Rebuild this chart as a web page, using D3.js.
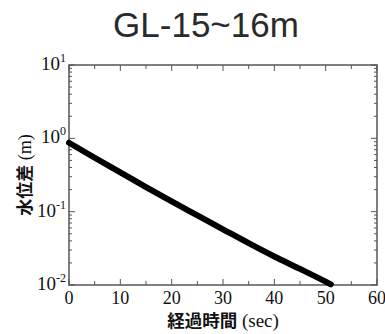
<!DOCTYPE html>
<html>
<head>
<meta charset="utf-8">
<script src="https://cdn.jsdelivr.net/npm/d3@7"></script>
<style>
  html, body { margin: 0; padding: 0; background: #fff; }
  svg { display: block; }
  .serif { font-family: "Liberation Serif", "Times New Roman", "DejaVu Serif", serif; }
  .cjk { font-family: "Noto Sans CJK JP", "Noto Sans CJK SC", sans-serif; }
  .sans { font-family: "Liberation Sans", Arial, sans-serif; }
</style>
</head>
<body>
<svg id="chart" width="385" height="334"></svg>
<script>
// Head-difference decay in a slug test (GL-15~16m)
const elapsedSec = [0, 5, 10, 15, 20, 25, 30, 35, 40, 45, 50, 51];
const headDiffM = [0.871, 0.543, 0.343, 0.216, 0.138, 0.0891, 0.0575, 0.0372, 0.0245, 0.0166, 0.0111, 0.0102];
const xTickValues = [0, 10, 20, 30, 40, 50, 60];
const yDecadeExponents = [1, 0, -1, -2];

const titleText = "GL-15~16m";
const xLabelJa = "経過時間", xLabelUnit = " (sec)";
const yLabelJa = "水位差", yLabelUnit = " (m)";

const margin = { left: 69, right: 8, top: 65, bottom: 49 };
const W = 385, H = 334;
const svg = d3.select("#chart");

const x = d3.scaleLinear().domain([0, 60]).range([margin.left, W - margin.right]);
const y = d3.scaleLog().domain([0.01, 10]).range([H - margin.bottom, margin.top]);

const axisColor = "#555";

// frame
svg.append("rect")
  .attr("x", x(0)).attr("y", y(10))
  .attr("width", x(60) - x(0)).attr("height", y(0.01) - y(10))
  .attr("fill", "none").attr("stroke", axisColor).attr("stroke-width", 1.5);

// x ticks (inward on bottom and top)
const xMinor = d3.range(5, 60, 10);
function xTicks(vals, len) {
  vals.forEach(v => {
    svg.append("line").attr("x1", x(v)).attr("x2", x(v))
      .attr("y1", y(0.01)).attr("y2", y(0.01) - len)
      .attr("stroke", axisColor).attr("stroke-width", 1);
    svg.append("line").attr("x1", x(v)).attr("x2", x(v))
      .attr("y1", y(10)).attr("y2", y(10) + len)
      .attr("stroke", axisColor).attr("stroke-width", 1);
  });
}
xTicks(xTickValues, 6);
xTicks(xMinor, 4);

// y ticks (log, inward on left and right)
const yMinor = [];
[0.01, 0.1, 1].forEach(d => { for (let k = 2; k <= 9; k++) yMinor.push(d * k); });
function yTicks(vals, len) {
  vals.forEach(v => {
    svg.append("line").attr("x1", x(0)).attr("x2", x(0) + len)
      .attr("y1", y(v)).attr("y2", y(v))
      .attr("stroke", axisColor).attr("stroke-width", 1);
    svg.append("line").attr("x1", x(60)).attr("x2", x(60) - len)
      .attr("y1", y(v)).attr("y2", y(v))
      .attr("stroke", axisColor).attr("stroke-width", 1);
  });
}
yTicks(yDecadeExponents.map(e => Math.pow(10, e)), 6);
yTicks(yMinor, 3);

// x tick labels
svg.append("g").selectAll("text").data(xTickValues).join("text")
  .attr("class", "serif")
  .attr("x", d => x(d)).attr("y", y(0.01) + 19)
  .attr("text-anchor", "middle")
  .attr("font-size", 18)
  .attr("fill", "#111")
  .text(d => d);

// y tick labels: 10 with superscript exponent
const yl = svg.append("g").selectAll("text").data(yDecadeExponents).join("text")
  .attr("class", "serif")
  .attr("x", x(0) - 3).attr("y", d => y(Math.pow(10, d)) + 5)
  .attr("text-anchor", "end")
  .attr("font-size", 19)
  .attr("fill", "#111");
yl.append("tspan").text("10");
yl.append("tspan").attr("dy", -8).attr("font-size", 12).text(d => d);

// data curve
const pts = elapsedSec.map((t, i) => [t, headDiffM[i]]);
svg.append("path")
  .datum(pts)
  .attr("d", d3.line().x(d => x(d[0])).y(d => y(d[1])).curve(d3.curveMonotoneX))
  .attr("fill", "none").attr("stroke", "#000")
  .attr("stroke-width", 6).attr("stroke-linecap", "round").attr("stroke-linejoin", "round");

// title
svg.append("text")
  .attr("class", "sans")
  .attr("x", 206).attr("y", 37)
  .attr("text-anchor", "middle")
  .attr("font-size", 35).attr("fill", "#2a2a2a")
  .text(titleText);

// x axis label
const xl = svg.append("text")
  .attr("x", (x(0) + x(60)) / 2).attr("y", 327)
  .attr("text-anchor", "middle").attr("fill", "#111");
xl.append("tspan").attr("class", "cjk").attr("font-weight", 700).attr("font-size", 17.5).text(xLabelJa);
xl.append("tspan").attr("class", "serif").attr("font-size", 19).text(xLabelUnit);

// y axis label
const ylab = svg.append("text")
  .attr("transform", `translate(31, ${(y(0.01) + y(10)) / 2}) rotate(-90)`)
  .attr("text-anchor", "middle").attr("fill", "#111");
ylab.append("tspan").attr("class", "cjk").attr("font-weight", 700).attr("font-size", 17).text(yLabelJa);
ylab.append("tspan").attr("class", "serif").attr("font-size", 18).text(yLabelUnit);
</script>
</body>
</html>
